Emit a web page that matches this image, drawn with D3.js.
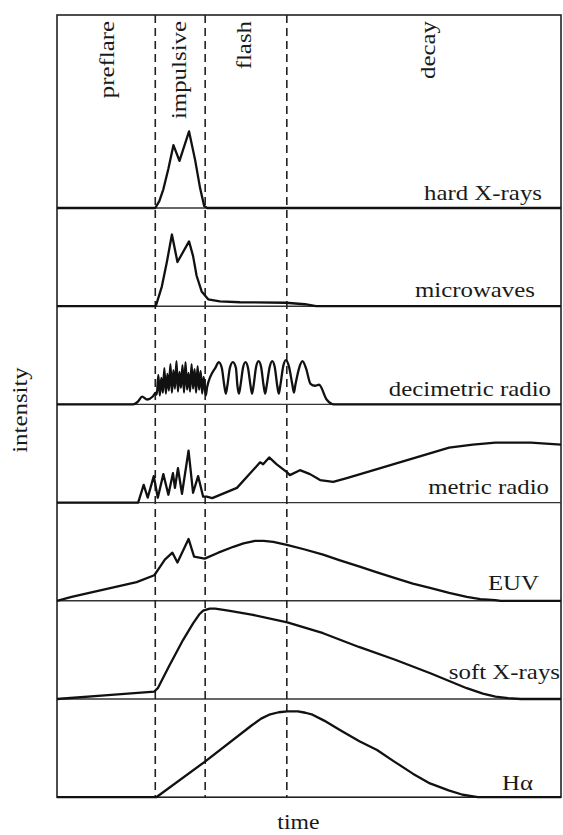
<!DOCTYPE html>
<html>
<head>
<meta charset="utf-8">
<script src="https://cdn.jsdelivr.net/npm/d3@7"></script>
<style>
  html, body { margin: 0; padding: 0; background: #fff; }
  svg { display: block; }
</style>
</head>
<body>
<script>
// ---- Data -------------------------------------------------------------
// Flare phases and the times (arbitrary units, 0-100) that separate them
const phases = ["preflare", "impulsive", "flash", "decay"];
const phaseBounds = [19.5, 29.4, 45.6];

// Emission channels, top to bottom
const channels = ["hard X-rays", "microwaves", "decimetric radio", "metric radio", "EUV", "soft X-rays", "H\u03b1"];

// Light curves as [time, relative intensity] pairs (intensity 0-100 of a panel)
const hardXRays = [
  [0, 0], [19.5, 0], [20.3, 7], [21.1, 19], [22.1, 40], [23.1, 64], [24.3, 48], [26.2, 78],
  [27.4, 49], [28.4, 20], [29.2, 2], [29.8, 0], [100, 0]
];
const microwaves = [
  [0, 0], [19.6, 0], [20.8, 20], [21.8, 45], [22.8, 73], [23.9, 45], [26.2, 66],
  [27.0, 51], [27.7, 31], [28.7, 15], [30.0, 7], [32.3, 5], [36.3, 4], [45.4, 3.5],
  [49.2, 2], [51.4, 0], [100, 0]
];
const decimetricRadio = [
  [0, 0], [15.1, 0], [16.1, 3], [16.9, 8], [17.9, 5], [19.0, 8], [19.6, 12],
  [19.8, 10], [20.1, 30], [20.4, 9], [20.7, 27], [21.0, 12], [21.3, 37], [21.6, 11],
  [21.9, 31], [22.2, 14], [22.5, 41], [22.8, 12], [23.1, 35], [23.4, 16], [23.7, 44],
  [24.0, 13], [24.3, 33], [24.6, 17], [24.9, 40], [25.2, 12], [25.5, 43], [25.8, 15],
  [26.1, 32], [26.4, 13], [26.7, 41], [27.0, 16], [27.3, 36], [27.6, 12], [27.9, 39],
  [28.2, 15], [28.5, 34], [28.8, 11], [29.1, 28], [29.5, 9],
  [29.8, 18], [31.5, 38], [32.1, 43], [32.7, 37], [33.2, 19], [33.5, 11],
  [33.8, 19], [34.3, 37], [34.9, 43], [35.5, 37], [35.8, 19], [36.1, 11],
  [36.4, 19], [36.9, 37], [37.4, 43], [37.9, 37], [38.4, 19], [38.7, 11],
  [39.0, 19], [39.5, 38], [40.0, 44], [40.5, 38], [41.0, 19], [41.3, 11],
  [41.6, 19], [42.2, 38], [42.7, 44], [43.2, 38], [43.7, 19], [44.0, 11],
  [44.3, 19], [44.9, 39], [45.4, 45], [46.0, 39], [46.7, 20], [47.0, 12],
  [47.3, 20], [48.1, 38], [48.7, 44], [49.4, 37], [50.3, 21], [51.2, 19], [52.0, 20],
  [53.5, 5], [55.0, 0], [100, 0]
];
const metricRadio = [
  [0, 0], [16.1, 0], [17.2, 18], [18.0, 5], [19.2, 27], [20.0, 5], [21.1, 29],
  [22.1, 8], [23.0, 30], [23.4, 15], [24.0, 35], [24.8, 9], [26.1, 53], [27.0, 10],
  [28.0, 27], [29.0, 6], [29.7, 6], [30.8, 4.5], [35.7, 15], [39.6, 37], [40.3, 41],
  [40.9, 39], [42.1, 46], [43.6, 39], [45.6, 31], [46.2, 28], [48.2, 33], [50.2, 29],
  [52.2, 23], [54.8, 21], [57.5, 25], [63.5, 34], [77.8, 56], [82.5, 59], [87.0, 61],
  [94.0, 61], [100, 59]
];
const euv = [
  [0, 0], [2.9, 4], [15.8, 19], [19.3, 26], [20.5, 35], [21.4, 42], [22.9, 49],
  [23.9, 39], [26.1, 63], [27.2, 45], [29.3, 43], [32.0, 49], [35.0, 55], [37.0, 58.5],
  [39.3, 61], [41.0, 61], [42.9, 60], [45.6, 57], [49.0, 52.5], [52.8, 47], [56.0, 41.5],
  [59.9, 35], [63.5, 29], [67.1, 23], [70.6, 17.5], [74.2, 13], [77.8, 8], [81.3, 4],
  [84.0, 1.8], [87.0, 0.7], [88.0, 0], [100, 0]
];
const softXRays = [
  [0, 0], [10.1, 4], [19.3, 7.6], [20.0, 11], [22.2, 33], [25.0, 60], [27.0, 77],
  [28.2, 86], [29.0, 90], [30.3, 92], [31.4, 92], [34.0, 90], [38.6, 86], [45.7, 78],
  [52.8, 67], [59.9, 53], [67.1, 40], [74.2, 26], [81.3, 11], [84.5, 5.5], [87.0, 2.5],
  [89.5, 0.8], [92.0, 0], [100, 0]
];
const hAlpha = [
  [0, 0], [19.7, 0], [29.3, 36], [38.6, 73], [40.5, 80], [42.1, 84], [44.0, 86.5],
  [45.7, 87.5], [47.8, 87.5], [49.3, 86], [50.7, 84], [53.0, 78], [56.3, 68], [60.0, 57],
  [63.5, 48], [67.0, 36], [70.6, 24], [74.0, 14], [77.7, 7], [80.5, 2.5], [83.5, 0],
  [100, 0]
];

const curves = [hardXRays, microwaves, decimetricRadio, metricRadio, euv, softXRays, hAlpha];

// ---- Layout -----------------------------------------------------------
const W = 563, H = 835;
const frameLeft = 57, frameRight = 561, frameTop = 15;
const firstBottom = 208;      // bottom of the tallest (first) panel
const panelH = 98.2;          // height of every stacked panel

// channel label placement: right edge and rise above the panel floor
const labelRight = [542, 535, 551, 549, 539, 560, 533];
const labelRise = [8, 9, 8, 9, 11, 20, 7];
// phase label baselines (time units) in the top panel
const phaseLabelAt = [11.4, 25.6, 38.5, 75.0];

const font = "'Liberation Serif', 'Times New Roman', serif";
const fontSize = 22;
const stretch = 1.13;

const svg = d3.select("body").append("svg")
  .attr("width", W).attr("height", H)
  .attr("viewBox", `0 0 ${W} ${H}`);

const x = d3.scaleLinear().domain([0, 100]).range([frameLeft, frameRight]);
const panelBottom = i => firstBottom + i * panelH;
const yFor = i => d3.scaleLinear().domain([0, 100]).range([panelBottom(i), panelBottom(i) - panelH]);

// outer frame
svg.append("rect")
  .attr("x", frameLeft).attr("y", frameTop)
  .attr("width", frameRight - frameLeft).attr("height", panelBottom(channels.length - 1) - frameTop)
  .attr("fill", "none").attr("stroke", "#222").attr("stroke-width", 1.6);

// panel separators
svg.append("g").selectAll("line")
  .data(channels.slice(0, -1))
  .join("line")
  .attr("x1", frameLeft).attr("x2", frameRight)
  .attr("y1", (d, i) => panelBottom(i)).attr("y2", (d, i) => panelBottom(i))
  .attr("stroke", "#333").attr("stroke-width", 1.4);

// phase boundaries
svg.append("g").selectAll("line")
  .data(phaseBounds)
  .join("line")
  .attr("x1", d => x(d)).attr("x2", d => x(d))
  .attr("y1", frameTop).attr("y2", panelBottom(channels.length - 1))
  .attr("stroke", "#222").attr("stroke-width", 1.6)
  .attr("stroke-dasharray", "8,5");

// light curves: the decimetric burst train is smoothed, the rest are polylines
const curveTypes = [d3.curveLinear, d3.curveLinear, d3.curveMonotoneX, d3.curveLinear,
                    d3.curveLinear, d3.curveLinear, d3.curveLinear];
curves.forEach((data, i) => {
  const y = yFor(i);
  const line = d3.line().x(d => x(d[0])).y(d => y(d[1])).curve(curveTypes[i]);
  svg.append("path")
    .datum(data)
    .attr("d", line)
    .attr("fill", "none")
    .attr("stroke", "#111")
    .attr("stroke-width", 2.3)
    .attr("stroke-linejoin", "round");
});

// channel labels
svg.append("g").selectAll("text")
  .data(channels)
  .join("text")
  .attr("transform", (d, i) => `translate(${labelRight[i]},${panelBottom(i) - labelRise[i]}) scale(${stretch},1)`)
  .attr("text-anchor", "end")
  .attr("font-family", font).attr("font-size", fontSize)
  .attr("fill", "#1a1a1a")
  .text(d => d);

// phase labels, reading upward
svg.append("g").selectAll("text")
  .data(phases)
  .join("text")
  .attr("transform", (d, i) => `translate(${x(phaseLabelAt[i])},${frameTop + 6}) rotate(-90) scale(${stretch},1)`)
  .attr("text-anchor", "end")
  .attr("font-family", font).attr("font-size", fontSize)
  .attr("fill", "#1a1a1a")
  .text(d => d);

// axis titles
svg.append("text")
  .attr("transform", `translate(27,410) rotate(-90) scale(${stretch},1)`)
  .attr("text-anchor", "middle")
  .attr("font-family", font).attr("font-size", fontSize)
  .attr("fill", "#1a1a1a")
  .text("intensity");

svg.append("text")
  .attr("transform", `translate(${x(47.9)},829) scale(${stretch},1)`)
  .attr("text-anchor", "middle")
  .attr("font-family", font).attr("font-size", 21)
  .attr("fill", "#1a1a1a")
  .text("time");
</script>
</body>
</html>
